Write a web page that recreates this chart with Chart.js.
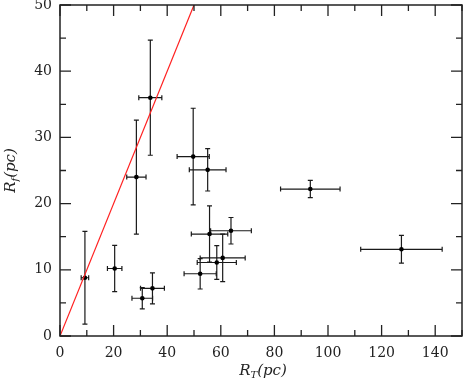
<!DOCTYPE html>
<html>
<head>
<meta charset="utf-8">
<script src="https://cdn.jsdelivr.net/npm/chart.js@4"></script>
<style>
  html, body { margin: 0; padding: 0; background: #fff; }
  #wrap { width: 463px; height: 382px; }
</style>
</head>
<body>
<div id="wrap"><canvas id="c"></canvas></div>
<script>
// R_T (x) and R_f (y) with errors
const rT    = [9.3, 20.4, 28.5, 30.7, 34.5, 33.7, 49.7, 52.3, 55.1, 55.8, 58.5, 60.7, 63.8, 93.4, 127.4];
const rTErr = [1.4, 2.7, 3.6, 3.85, 4.45, 4.3, 6.0, 6.0, 6.85, 6.8, 7.3, 8.4, 7.6, 11.1, 15.2];
const rF    = [8.8, 10.2, 24.0, 5.7, 7.2, 36.0, 27.1, 9.4, 25.1, 15.4, 11.1, 11.8, 15.9, 22.2, 13.1];
const rFErr = [7.0, 3.5, 8.6, 1.6, 2.35, 8.7, 7.3, 2.3, 3.2, 4.25, 2.55, 3.6, 2.0, 1.3, 2.1];

// one-to-one line
const lineX = [0, 50];
const lineY = [0, 50];

const xTicks = [0, 20, 40, 60, 80, 100, 120, 140];
const yTicks = [0, 10, 20, 30, 40, 50];

const tickFont = { family: "DejaVu Serif", size: 14 };

/* ---- error bars, inward ticks, frame, axis titles ---- */
const extras = {
    id: "extras",
    beforeDatasetsDraw(chart) {
        const ctx = chart.ctx, xs = chart.scales.x, ys = chart.scales.y;
        ctx.save();
        ctx.strokeStyle = "#1a1a1a";
        ctx.lineWidth = 1.2;
        const cap = 2.5;
        for (let i = 0; i < rT.length; i++) {
            const px = xs.getPixelForValue(rT[i]);
            const py = ys.getPixelForValue(rF[i]);
            const x0 = xs.getPixelForValue(rT[i] - rTErr[i]);
            const x1 = xs.getPixelForValue(rT[i] + rTErr[i]);
            const y0 = ys.getPixelForValue(rF[i] - rFErr[i]);
            const y1 = ys.getPixelForValue(rF[i] + rFErr[i]);
            ctx.beginPath();
            ctx.moveTo(x0, py); ctx.lineTo(x1, py);
            ctx.moveTo(x0, py - cap); ctx.lineTo(x0, py + cap);
            ctx.moveTo(x1, py - cap); ctx.lineTo(x1, py + cap);
            ctx.moveTo(px, y0); ctx.lineTo(px, y1);
            ctx.moveTo(px - cap, y0); ctx.lineTo(px + cap, y0);
            ctx.moveTo(px - cap, y1); ctx.lineTo(px + cap, y1);
            ctx.stroke();
        }
        ctx.restore();
    },
    afterDraw(chart) {
        const ctx = chart.ctx, a = chart.chartArea;
        const xs = chart.scales.x, ys = chart.scales.y;
        ctx.save();
        ctx.strokeStyle = "#222";
        ctx.lineWidth = 1.5;
        ctx.strokeRect(a.left, a.top, a.right - a.left, a.bottom - a.top);

        ctx.lineWidth = 1.3;
        ctx.beginPath();
        for (let v = 0; v <= 150; v += 10) {
            const p = xs.getPixelForValue(v);
            const len = v % 20 === 0 ? 11 : 6;
            ctx.moveTo(p, a.bottom); ctx.lineTo(p, a.bottom - len);
            ctx.moveTo(p, a.top); ctx.lineTo(p, a.top + len);
        }
        for (let v = 0; v <= 50; v += 5) {
            const p = ys.getPixelForValue(v);
            const len = v % 10 === 0 ? 11 : 6;
            ctx.moveTo(a.left, p); ctx.lineTo(a.left + len, p);
            ctx.moveTo(a.right, p); ctx.lineTo(a.right - len, p);
        }
        ctx.stroke();

        // axis titles with subscripts
        ctx.fillStyle = "#222";
        ctx.textBaseline = "alphabetic";
        const drawSub = (main, sub, rest, cx, cy) => {
            const big = "italic 15px 'DejaVu Serif'";
            const small = "italic 10px 'DejaVu Serif'";
            ctx.font = big;
            const w1 = ctx.measureText(main).width;
            const w3 = ctx.measureText(rest).width;
            ctx.font = small;
            const w2 = ctx.measureText(sub).width;
            let x = cx - (w1 + w2 + w3) / 2;
            ctx.font = big;
            ctx.fillText(main, x, cy);
            x += w1;
            ctx.font = small;
            ctx.fillText(sub, x, cy + 3);
            x += w2;
            ctx.font = big;
            ctx.fillText(rest, x, cy);
        };
        drawSub("R", "T", "(pc)", (a.left + a.right) / 2 + 2, 375);
        ctx.translate(15, (a.top + a.bottom) / 2);
        ctx.rotate(-Math.PI / 2);
        drawSub("R", "f", "(pc)", 0, 0);
        ctx.restore();
    }
};

new Chart(document.getElementById("c"), {
    type: "scatter",
    data: {
        datasets: [
            {
                label: "one-to-one",
                data: lineX.map((x, i) => ({ x: x, y: lineY[i] })),
                showLine: true,
                borderColor: "#ff2020",
                borderWidth: 1.2,
                pointRadius: 0,
                pointHoverRadius: 0
            },
            {
                label: "clusters",
                data: rT.map((x, i) => ({ x: x, y: rF[i] })),
                backgroundColor: "#000",
                borderColor: "#000",
                pointRadius: 2.3,
                pointHoverRadius: 2.3,
                borderWidth: 0
            }
        ]
    },
    options: {
        responsive: true,
        maintainAspectRatio: false,
        animation: false,
        layout: { autoPadding: false, padding: { top: 5, right: 1, left: 0, bottom: 0 } },
        plugins: {
            legend: { display: false },
            tooltip: { enabled: false }
        },
        scales: {
            x: {
                type: "linear",
                min: 0,
                max: 150,
                afterBuildTicks: s => { s.ticks = xTicks.map(v => ({ value: v })); },
                afterFit: s => { s.height = 46; s.paddingLeft = 0; s.paddingRight = 0; },
                grid: { display: false, drawTicks: false },
                border: { display: false },
                ticks: { font: tickFont, color: "#222", padding: 9, maxRotation: 0 }
            },
            y: {
                type: "linear",
                min: 0,
                max: 50,
                afterBuildTicks: s => { s.ticks = yTicks.map(v => ({ value: v })); },
                afterFit: s => { s.width = 60; s.paddingTop = 0; s.paddingBottom = 0; },
                grid: { display: false, drawTicks: false },
                border: { display: false },
                ticks: { font: tickFont, color: "#222", padding: 8 }
            }
        }
    },
    plugins: [extras]
});
</script>
</body>
</html>
